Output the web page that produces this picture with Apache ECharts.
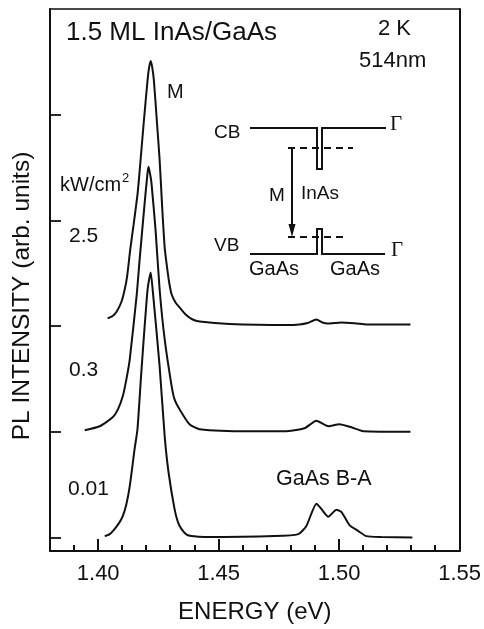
<!DOCTYPE html>
<html><head><meta charset="utf-8">
<style>html,body{margin:0;padding:0;background:#fff}#c{width:484px;height:629px}</style>
<script src="https://cdn.jsdelivr.net/npm/echarts@6/dist/echarts.min.js"></script>
</head><body><div id="c"></div>
<script>
const energyTicks = [1.40, 1.45, 1.50, 1.55];
const minorTicks = [1.39, 1.41, 1.42, 1.43, 1.44, 1.46, 1.47, 1.48, 1.49, 1.51, 1.52, 1.53, 1.54];
const intensityTicks = [0, 1, 2, 3, 4];

const curve25 = [[1.4039,2.073],[1.4060,2.096],[1.4077,2.139],[1.4097,2.233],[1.4110,2.346],[1.4120,2.469],[1.4133,2.724],[1.4147,2.960],[1.4164,3.263],[1.4176,3.574],[1.4189,3.924],[1.4205,4.330],[1.4211,4.443],[1.4218,4.509],[1.4224,4.452],[1.4231,4.330],[1.4244,3.924],[1.4255,3.574],[1.4265,3.150],[1.4276,2.743],[1.4288,2.517],[1.4296,2.394],[1.4305,2.299],[1.4321,2.224],[1.4338,2.177],[1.4363,2.111],[1.4392,2.063],[1.4421,2.044],[1.4545,2.021],[1.4782,2.011],[1.4835,2.016],[1.4869,2.030],[1.4906,2.063],[1.4931,2.035],[1.4952,2.025],[1.5010,2.035],[1.5072,2.025],[1.5113,2.016],[1.5296,2.016]];
const curve03 = [[1.3944,1.015],[1.4006,1.053],[1.4060,1.138],[1.4082,1.213],[1.4102,1.336],[1.4117,1.497],[1.4131,1.686],[1.4160,2.299],[1.4172,2.630],[1.4193,3.168],[1.4205,3.452],[1.4209,3.508],[1.4216,3.432],[1.4221,3.357],[1.4238,2.913],[1.4255,2.347],[1.4276,1.874],[1.4305,1.431],[1.4317,1.308],[1.4338,1.213],[1.4379,1.072],[1.4421,1.025],[1.4628,1.006],[1.4773,1.006],[1.4856,1.034],[1.4906,1.105],[1.4955,1.053],[1.5001,1.072],[1.5051,1.043],[1.5101,1.006],[1.5296,1.001]];
const curve001 = [[1.4027,0.014],[1.4048,0.033],[1.4068,0.080],[1.4089,0.146],[1.4102,0.203],[1.4117,0.316],[1.4131,0.486],[1.4151,0.836],[1.4163,1.025],[1.4179,1.563],[1.4205,2.347],[1.4218,2.507],[1.4226,2.347],[1.4255,1.619],[1.4276,0.958],[1.4292,0.618],[1.4317,0.269],[1.4331,0.146],[1.4346,0.080],[1.4367,0.028],[1.4388,0.014],[1.4442,0.005],[1.4732,0.014],[1.4831,0.033],[1.4864,0.109],[1.4906,0.321],[1.4927,0.269],[1.4955,0.198],[1.4989,0.264],[1.5010,0.241],[1.5043,0.118],[1.5080,0.061],[1.5113,0.014],[1.5175,0.005],[1.5304,0]];

const FONT = '"Liberation Sans", Arial, sans-serif';
const INK = '#111';
const Y_MIN = -0.127, Y_MAX = 5;
function label(text, x, y, size, align, family) {
  return {type:'text', x, y, silent:true, style:{text, fill:INK, font:`${size}px ${family||FONT}`, textAlign:align||'left', textVerticalAlign:'middle'}};
}
function seg(pts, w, dash) {
  return {type:'polyline', silent:true, shape:{points:pts}, style:{stroke:INK, lineWidth:w, fill:null, lineDash:dash||null}};
}
function curve(data) {
  return {type:'line', data, showSymbol:false, smooth:0.2, lineStyle:{color:INK, width:2}, silent:true, animation:false};
}
const staticGraphics = [
    {type:'text', x:22, y:296, rotation:Math.PI/2, silent:true, style:{text:'PL INTENSITY (arb. units)', fill:INK, font:`24.5px ${FONT}`, textAlign:'center', textVerticalAlign:'middle'}},
    label('1.5 ML InAs/GaAs', 66, 33, 26),
    label('2 K', 378, 29, 22),
    label('514nm', 359, 61, 22),
    label('M', 167, 92, 20),
    label('kW/cm', 60, 185, 20),
    label('2', 122, 178, 13),
    label('2.5', 69, 236, 21),
    label('0.3', 69, 370, 21),
    label('0.01', 68, 489, 21),
    label('GaAs B-A', 276, 479, 21.5),
    label('CB', 214, 133, 19),
    label('VB', 214, 246, 19),
    label('M', 269, 196, 19),
    label('InAs', 301, 194, 19),
    label('GaAs', 249, 269, 20),
    label('GaAs', 330, 269, 20),
    label('Γ', 390, 124, 21, 'left', '"Liberation Serif", serif'),
    label('Γ', 391, 250, 21, 'left', '"Liberation Serif", serif'),
    seg([[250,128],[317,128],[317,169],[322,169],[322,128],[386,128]], 2),
    seg([[250,254],[317,254],[317,229],[322,229],[322,254],[385,254]], 2),
    seg([[288,148],[353,148]], 1.8, [7,5]),
    seg([[288,237],[347,237]], 1.8, [7,5]),
    seg([[292,148],[292,230]], 2),
    {type:'polygon', silent:true, shape:{points:[[288.5,224],[295.5,224],[292,237]]}, style:{fill:INK}}
];
const chart = echarts.init(document.getElementById('c'), null, {renderer:'canvas'});
chart.setOption({
  animation:false,
  backgroundColor:'#fff',
  grid:{left:50, right:23, top:9, bottom:77, show:false},
  xAxis:[{
    type:'value', min:1.38, max:1.55, position:'bottom',
    name:'ENERGY (eV)', nameLocation:'middle', nameGap:49,
    nameTextStyle:{color:INK, fontFamily:FONT, fontSize:24},
    axisLine:{show:true, onZero:false, lineStyle:{color:INK, width:2}},
    splitLine:{show:false},
    axisTick:{show:false},
    axisLabel:{show:true, color:INK, fontFamily:FONT, fontSize:22, margin:12, customValues:energyTicks, formatter:v=>v.toFixed(2)}
  },{
    type:'value', min:1.38, max:1.55, position:'top',
    axisLine:{show:true, onZero:false, lineStyle:{color:INK, width:1.6}},
    axisTick:{show:false}, axisLabel:{show:false}, splitLine:{show:false}
  }],
  yAxis:[{
    type:'value', min:Y_MIN, max:Y_MAX, position:'left',
    axisLine:{show:true, onZero:false, lineStyle:{color:INK, width:2}},
    splitLine:{show:false},
    axisLabel:{show:false},
    axisTick:{show:true, inside:true, length:11, lineStyle:{color:INK, width:1.8}, customValues:intensityTicks}
  },{
    type:'value', min:Y_MIN, max:Y_MAX, position:'right',
    axisLine:{show:true, onZero:false, lineStyle:{color:INK, width:2}},
    axisTick:{show:false}, axisLabel:{show:false}, splitLine:{show:false}
  }],
  series:[curve(curve25), curve(curve03), curve(curve001)],
  graphic:staticGraphics
});
function tickGraphics(values, length) {
  return values.map(v => {
    const p = chart.convertToPixel({xAxisIndex:0, yAxisIndex:0}, [v, Y_MIN]);
    return {type:'rect', silent:true, zlevel:5, z:60, shape:{x:Math.round(p[0]) - 1, y:p[1] - length, width:2, height:length}, style:{fill:INK}};
  });
}
chart.setOption({graphic:staticGraphics.concat(tickGraphics(energyTicks, 12), tickGraphics(minorTicks, 6))});
</script></body></html>
